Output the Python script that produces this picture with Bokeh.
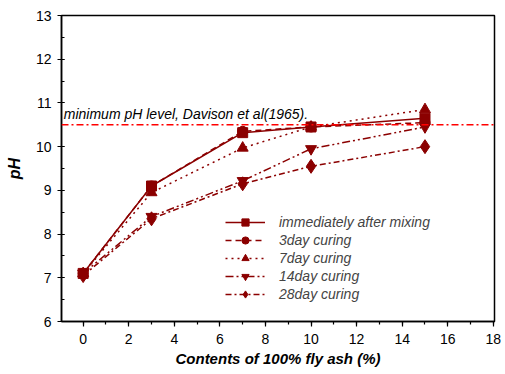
from bokeh.plotting import figure
from bokeh.models import Range1d, FixedTicker, Span, Label, Legend, LegendItem
from bokeh.embed import file_html
from bokeh.resources import INLINE

content = [0, 3, 7, 10, 15]
ph_immediate = [7.1, 9.1, 10.32, 10.45, 10.65]
ph_3day = [7.1, 9.1, 10.35, 10.45, 10.55]
ph_7day = [7.1, 8.95, 9.97, 10.45, 10.85]
ph_14day = [7.1, 8.4, 9.22, 9.95, 10.45]
ph_28day = [7.05, 8.35, 9.15, 9.55, 10.0]
min_ph = 10.5
x_ticks = [0, 2, 4, 6, 8, 10, 12, 14, 16, 18]
y_ticks = [6, 7, 8, 9, 10, 11, 12, 13]

FONT = "Liberation Sans"
DARK = "#8B0000"

p = figure(width=504, height=369, output_backend="svg", toolbar_location=None,
           x_range=Range1d(-0.95, 18.05), y_range=Range1d(6, 13),
           min_border_left=61, min_border_right=10, min_border_top=15, min_border_bottom=43)
p.grid.visible = False
p.outline_line_color = "black"
p.outline_line_width = 1.5
p.background_fill_color = "white"

for ax in (p.xaxis[0], p.yaxis[0]):
    ax.axis_line_width = 1.5
    ax.axis_line_color = "black"
    ax.major_tick_line_color = "black"
    ax.minor_tick_line_color = "black"
    ax.major_tick_line_width = 1.2
    ax.minor_tick_line_width = 1.2
    ax.major_label_text_font = FONT
    ax.major_label_text_font_size = "14px"
    ax.major_label_text_color = "black"
    ax.axis_label_text_font = FONT
    ax.axis_label_text_font_style = "bold italic"
    ax.axis_label_text_font_size = "15px"
    ax.axis_label_text_color = "black"

p.xaxis.ticker = FixedTicker(ticks=x_ticks, minor_ticks=list(range(-1, 19)))
p.yaxis.ticker = FixedTicker(ticks=y_ticks, minor_ticks=[6 + 0.5 * i for i in range(15)])
p.xaxis.major_tick_out = 5
p.xaxis.major_tick_in = 0
p.xaxis.minor_tick_out = 3
p.xaxis.minor_tick_in = 0
p.yaxis.major_tick_out = 4
p.yaxis.major_tick_in = 3
p.yaxis.minor_tick_out = 0
p.yaxis.minor_tick_in = 3
p.xaxis.major_label_standoff = 7
p.yaxis.major_label_standoff = 6
p.xaxis.axis_label = "Contents of 100% fly ash (%)"
p.yaxis.axis_label = "pH"
p.xaxis.axis_label_standoff = 3
p.yaxis.axis_label_standoff = 10
p.yaxis.axis_label_text_font_size = "16px"

ref = Span(location=min_ph, dimension="width", line_color="red", line_width=1.5, line_dash="7 3 2 3")
p.add_layout(ref)
p.add_layout(Label(x=-0.85, y=10.56, text="minimum pH level, Davison et al(1965).",
                   text_font=FONT, text_font_style="italic", text_font_size="14px",
                   text_color="black"))

series = [
    ("immediately after mixing", ph_immediate, "solid", "square", 10),
    ("3day curing", ph_3day, "6 4", "circle", 10),
    ("7day curing", ph_7day, "2 4", "triangle", 11),
    ("14day curing", ph_14day, "8 3 2 3 2 3", "inverted_triangle", 11),
    ("28day curing", ph_28day, "6 3 2 3", "diamond", 14),
]
items = []
for name, vals, dash, marker, size in series:
    r1 = p.line(content, vals, line_color=DARK, line_width=1.5, line_dash=dash)
    r2 = p.scatter(content, vals, marker=marker, size=size, fill_color=DARK,
                   line_color=DARK, line_width=1)
    items.append(LegendItem(label=name, renderers=[r1, r2]))

legend = Legend(items=items, location=(164, 18), border_line_color=None,
                background_fill_alpha=0, label_text_font=FONT,
                label_text_font_style="italic", label_text_font_size="14px",
                glyph_width=40, glyph_height=18, label_height=18, spacing=0,
                padding=0, margin=0, label_standoff=14)
p.add_layout(legend, "center")

open("out.html", "w").write(file_html(p, INLINE))
